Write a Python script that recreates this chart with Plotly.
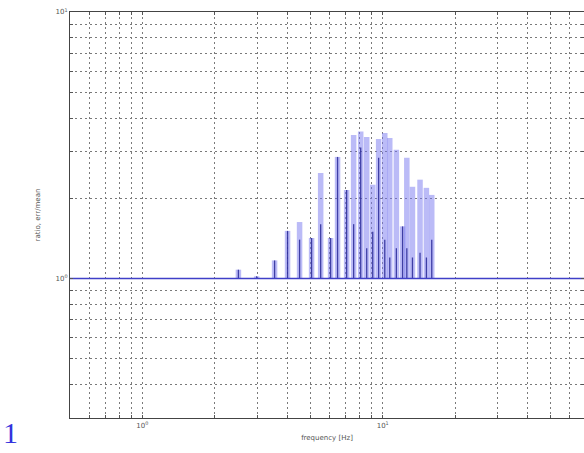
import math
import plotly.graph_objects as go

# Peak frequencies (Hz) and ratio values
freqs = [2.51, 2.99, 3.55, 4.02, 4.51, 5.06, 5.52, 6.07, 6.49, 7.08, 7.57, 8.10,
         8.58, 9.09, 9.62, 10.2, 10.7, 11.4, 12.1, 12.6, 13.3, 14.3, 15.2, 16.0]
light_vals = [1.08, 1.02, 1.17, 1.51, 1.63, 1.42, 2.49, 1.42, 2.86, 2.15, 3.46, 3.56,
              3.40, 2.25, 3.34, 3.52, 3.37, 3.04, 1.57, 2.84, 2.21, 2.35, 2.19, 2.06]
dark_vals = [1.08, 1.02, 1.17, 1.51, 1.40, 1.42, 1.60, 1.42, 2.86, 2.15, 1.60, 3.10,
             1.30, 1.50, 2.84, 1.40, 1.20, 1.30, 1.57, 1.30, 1.20, 1.25, 1.20, 1.40]
baseline = 1.0
x_range = [0.5, 68.8]
y_range = [0.3, 10]
x_decades = [0.1, 1, 10]
y_decades = [0.1, 1]


def stems(xs, ys, base):
    X, Y = [], []
    for x, y in zip(xs, ys):
        X += [x, x, None]
        Y += [base, y, None]
    return X, Y


def log_ticks(decades):
    vals, texts = [], []
    for d in decades:
        for k in range(1, 10):
            vals.append(round(k * d, 6))
            texts.append("10<sup>%d</sup>" % round(math.log10(d)) if k == 1 else "")
    vals.append(round(decades[-1] * 10, 6))
    texts.append("10<sup>%d</sup>" % round(math.log10(decades[-1] * 10)))
    return vals, texts


fig = go.Figure()
lx, ly = stems(freqs, light_vals, baseline)
fig.add_trace(go.Scatter(x=lx, y=ly, mode="lines",
                         line=dict(color="rgba(120,120,240,0.5)", width=5.5),
                         hoverinfo="skip", showlegend=False))
dx, dy = stems(freqs, dark_vals, baseline)
fig.add_trace(go.Scatter(x=dx, y=dy, mode="lines",
                         line=dict(color="rgba(40,40,150,0.85)", width=1.3),
                         hoverinfo="skip", showlegend=False))
fig.add_trace(go.Scatter(x=x_range, y=[baseline, baseline], mode="lines",
                         line=dict(color="#4040c8", width=1.5),
                         hoverinfo="skip", showlegend=False))

axis_common = dict(
    type="log", showline=True, linecolor="#444", linewidth=1.2, mirror="allticks",
    ticks="inside", ticklen=3, tickcolor="#555",
    showgrid=True, gridcolor="#7a7a7a", griddash="2px,3px", gridwidth=1,
    zeroline=False, tickfont=dict(size=7, color="#555", family="DejaVu Sans"),
)
xv, xt = log_ticks(x_decades)
yv, yt = log_ticks(y_decades)
fig.update_xaxes(**axis_common, range=[math.log10(x_range[0]), math.log10(x_range[1])],
                 tickmode="array", tickvals=xv, ticktext=xt,
                 title=dict(text="frequency [Hz]", font=dict(size=7, color="#555"), standoff=6))
fig.update_yaxes(**axis_common, range=[math.log10(y_range[0]), math.log10(y_range[1])],
                 tickmode="array", tickvals=yv, ticktext=yt,
                 title=dict(text="ratio, err/mean", font=dict(size=7, color="#555"), standoff=14))

fig.add_annotation(text="1", xref="paper", yref="paper", x=-0.134, y=-0.035,
                   xanchor="left", yanchor="middle", showarrow=False,
                   font=dict(size=30, color="#3333dd", family="Liberation Serif"))

fig.update_layout(width=584, height=453, margin=dict(l=70, r=0, t=12, b=35),
                  paper_bgcolor="white", plot_bgcolor="white",
                  font=dict(family="DejaVu Sans"))
fig.write_html("out.html")
